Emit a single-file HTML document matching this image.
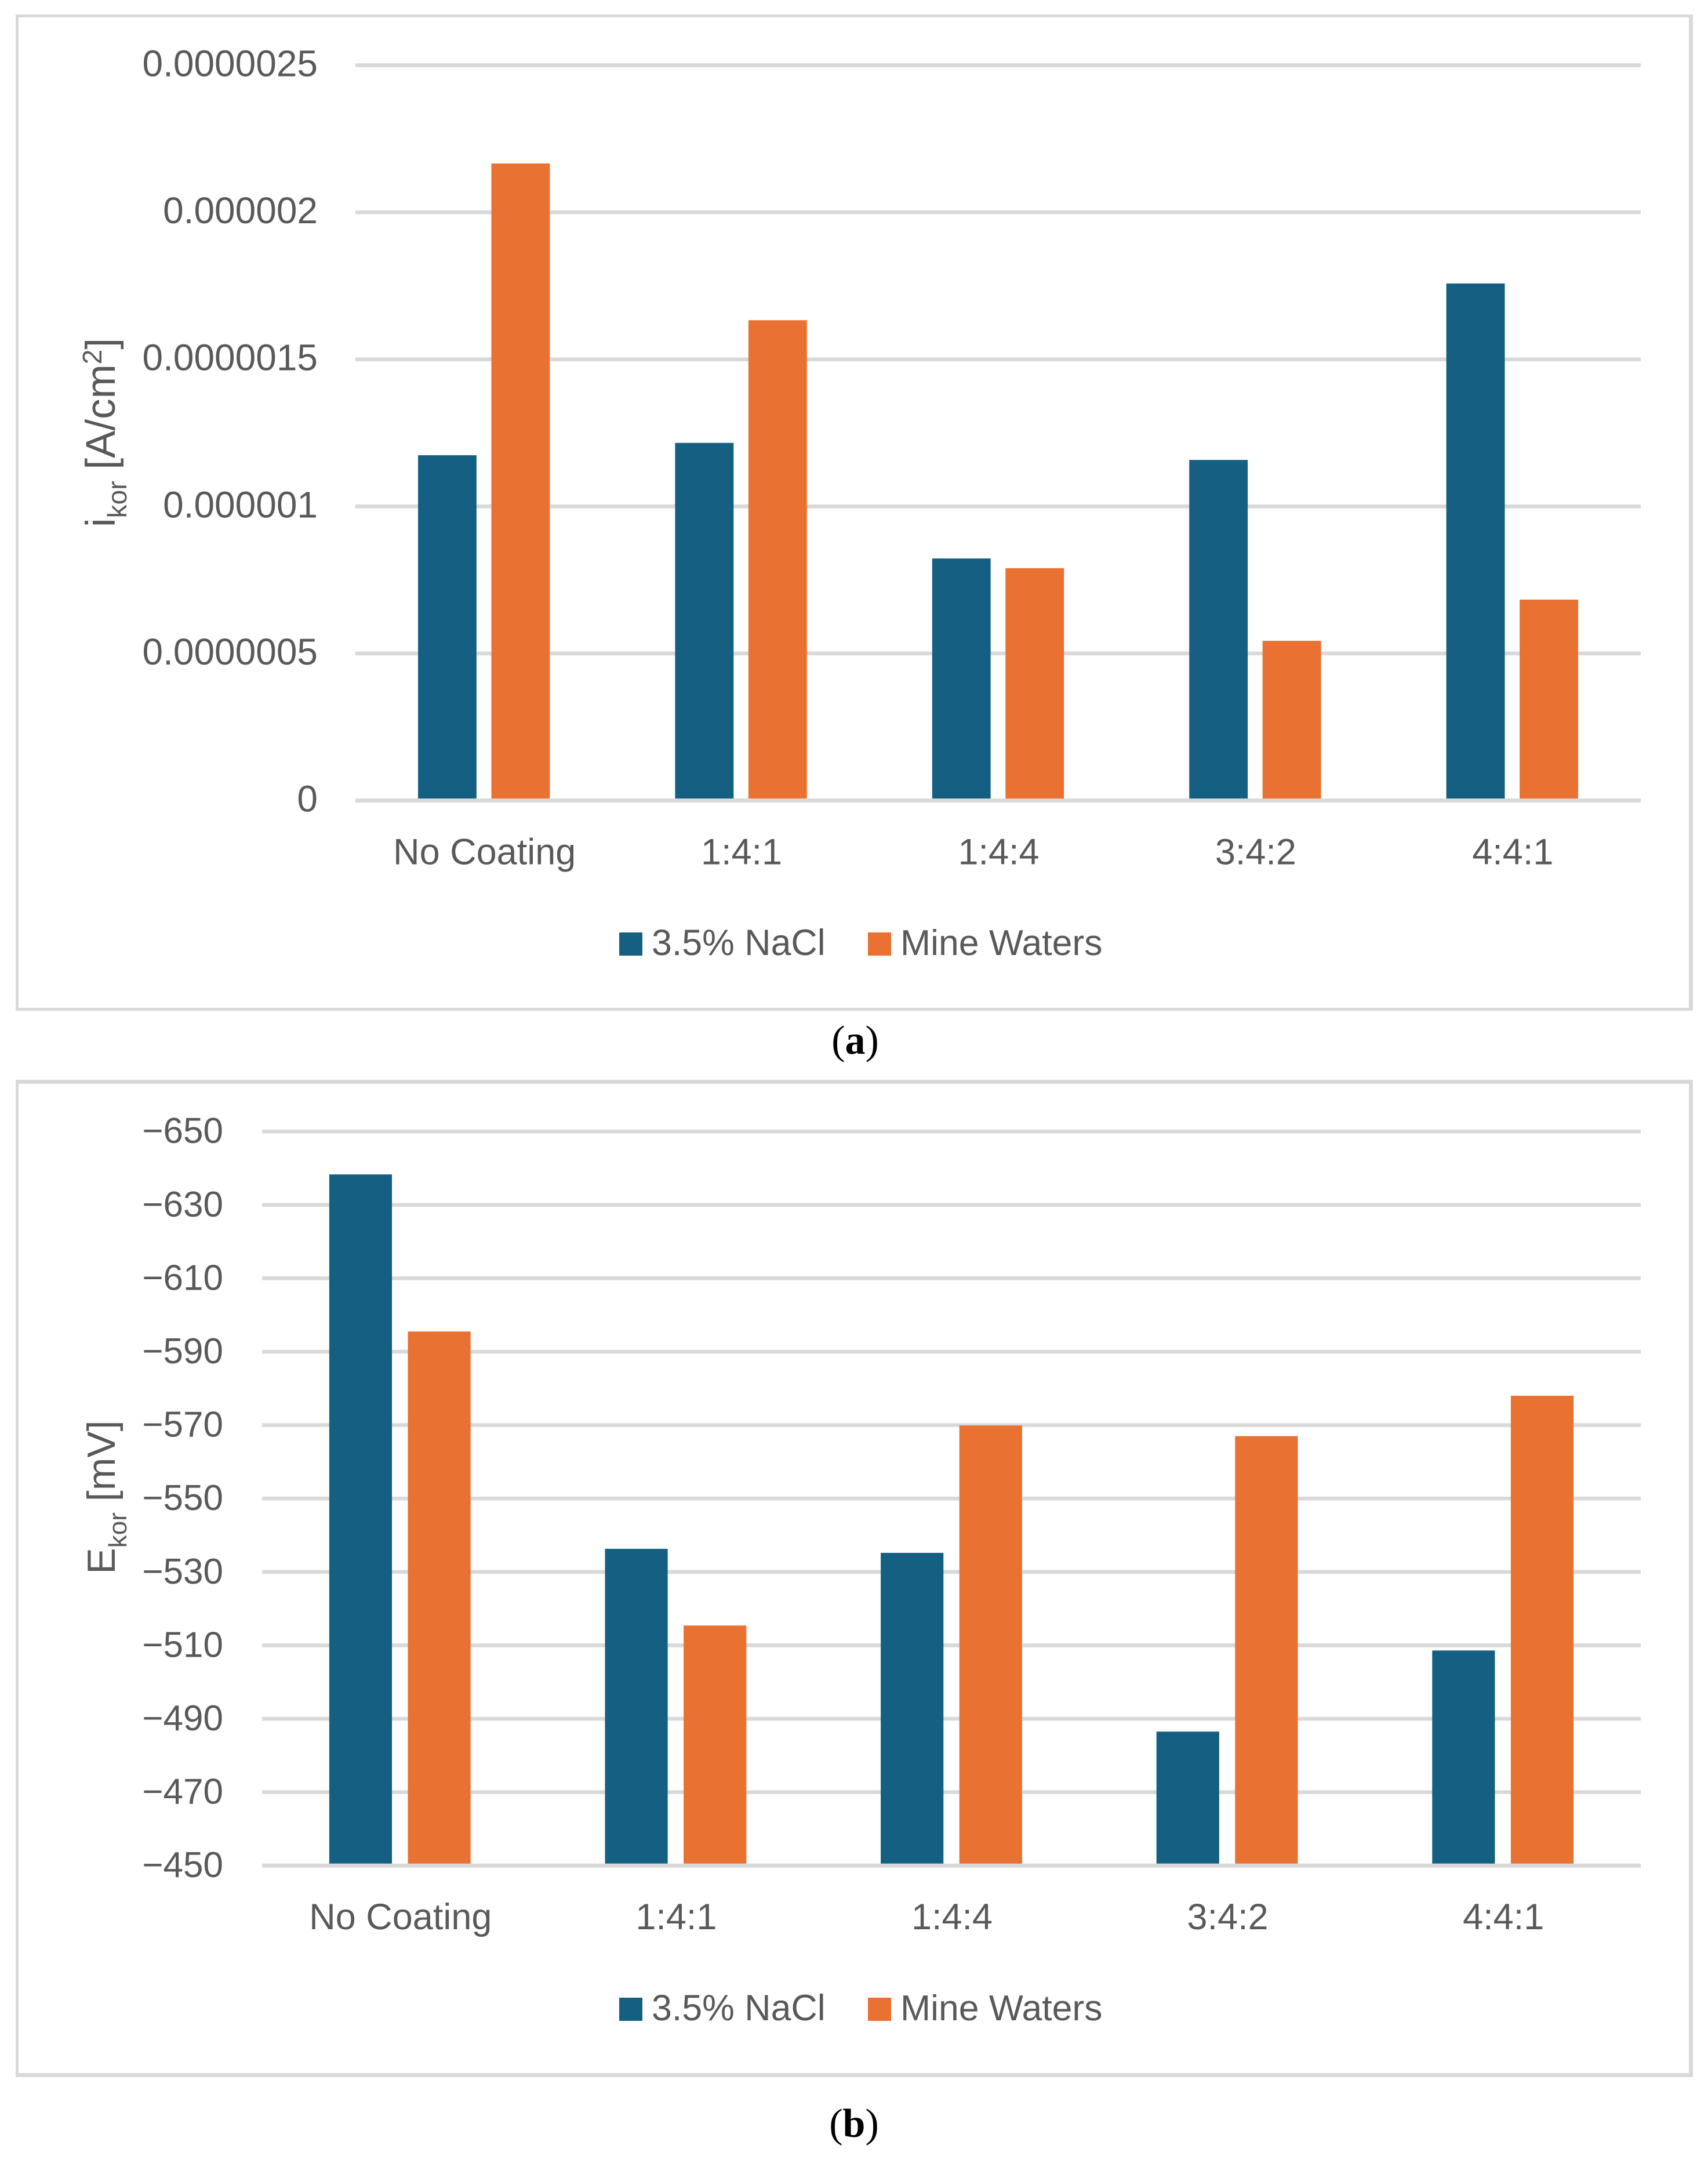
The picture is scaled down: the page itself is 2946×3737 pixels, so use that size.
<!DOCTYPE html>
<html lang="en">
<head>
<meta charset="utf-8">
<title>Corrosion current density and corrosion potential charts</title>
<style>
html,body{margin:0;padding:0;background:#fff;}
body{width:2946px;height:3737px;overflow:hidden;}
svg{display:block;}
text{font-family:"Liberation Sans",sans-serif;fill:#595959;}
.cap{font-family:"Liberation Serif",serif;fill:#000;font-size:70px;}
</style>
</head>
<body>
<svg id="figure" xmlns="http://www.w3.org/2000/svg" width="2946" height="3737" viewBox="0 0 2946 3737">
  <rect x="0" y="0" width="2946" height="3737" fill="#ffffff"/>
  <g id="chartA"></g>
  <text class="cap" x="1475" y="1817" text-anchor="middle">(<tspan font-weight="bold">a</tspan>)</text>
  <g id="chartB"></g>
  <text class="cap" x="1473" y="3685" text-anchor="middle">(<tspan font-weight="bold">b</tspan>)</text>
</svg>
<script>
var categoriesA = ['No Coating', '1:4:1', '1:4:4', '3:4:2', '4:4:1'];
var naclA = [0.000001174, 0.000001216, 0.000000823, 0.000001158, 0.000001758];
var mineA = [0.000002166, 0.000001633, 0.000000790, 0.000000543, 0.000000683];
var tickValuesA = [0, 0.0000005, 0.000001, 0.0000015, 0.000002, 0.0000025];
var tickLabelsA = ['0', '0.0000005', '0.000001', '0.0000015', '0.000002', '0.0000025'];

var categoriesB = ['No Coating', '1:4:1', '1:4:4', '3:4:2', '4:4:1'];
var naclB = [-638.3, -536.3, -535.2, -486.5, -508.6];
var mineB = [-595.5, -515.4, -569.9, -567.0, -578.0];
var tickValuesB = [-450, -470, -490, -510, -530, -550, -570, -590, -610, -630, -650];
var tickLabelsB = ['\u2212450', '\u2212470', '\u2212490', '\u2212510', '\u2212530', '\u2212550', '\u2212570', '\u2212590', '\u2212610', '\u2212630', '\u2212650'];

var NS = 'http://www.w3.org/2000/svg';
var BLUE = '#156082';
var ORANGE = '#E97132';
var GRID = '#D9D9D9';

function mk(parent, tag, attrs) {
  var el = document.createElementNS(NS, tag);
  for (var k in attrs) { el.setAttribute(k, attrs[k]); }
  parent.appendChild(el);
  return el;
}

function drawChart(root, cfg, categories, nacl, mine, tickValues, tickLabels) {
  var axisMin = tickValues[0];
  var axisMax = tickValues[tickValues.length - 1];
  function yScale(v) {
    return cfg.plotBottom + (v - axisMin) / (axisMax - axisMin) * (cfg.plotTop - cfg.plotBottom);
  }
  var catWidth = (cfg.plotRight - cfg.plotLeft) / categories.length;
  var barWidth = catWidth * 0.2275;
  var barGap = catWidth * 0.0577;
  function catCenter(i) {
    return cfg.plotLeft + catWidth * (i + 0.5);
  }

  var frame = mk(root, 'path', {
    d: 'M27 ' + cfg.frameTop + 'H2920V' + cfg.frameBottom + 'H27Z' +
       'M32 ' + cfg.frameInnerTop + 'V' + cfg.frameInnerBottom + 'H2913V' + cfg.frameInnerTop + 'Z',
    fill: GRID, 'fill-rule': 'evenodd'
  });
  
  

  tickValues.forEach(function (v, i) {
    var y = yScale(v);
    if (i > 0) {
      var line = mk(root, 'rect', { x: cfg.plotLeft, y: y - 3.25, width: cfg.plotRight - cfg.plotLeft, height: 6.5, fill: GRID });
      
      
    }
    var lab = mk(root, 'text', { x: cfg.tickX, y: y + cfg.tickDy, 'text-anchor': 'end', 'font-size': cfg.tickFont });
    
    
    lab.textContent = tickLabels[i];
  });

  categories.forEach(function (c, i) {
    var cx = catCenter(i);
    var top1 = yScale(nacl[i]);
    var top2 = yScale(mine[i]);
    var b1 = mk(root, 'rect', { x: cx - barGap / 2 - barWidth, y: top1, width: barWidth, height: yScale(axisMin) - top1, fill: BLUE });
    
    
    var b2 = mk(root, 'rect', { x: cx + barGap / 2, y: top2, width: barWidth, height: yScale(axisMin) - top2, fill: ORANGE });
    
    
    var lab = mk(root, 'text', { x: cx + 1, y: cfg.plotBottom + 110, 'text-anchor': 'middle', 'font-size': 63 });
    
    
    lab.textContent = c;
  });

  var axis = mk(root, 'rect', { x: cfg.plotLeft, y: yScale(axisMin) - 3.5, width: cfg.plotRight - cfg.plotLeft, height: 7, fill: GRID });
  
  

  var title = mk(root, 'text', {
    transform: 'translate(198 ' + cfg.titleY + ') rotate(-90)',
    'text-anchor': 'middle', 'font-size': cfg.titleFont
  });
  
  
  cfg.titleParts.forEach(function (p) {
    var t = mk(title, 'tspan', { dy: p[1] });
    if (p[2]) { t.setAttribute('font-size', p[2]); }
    t.textContent = p[0];
  });

  var s1 = mk(root, 'rect', { x: 1068, y: cfg.legendY, width: 40, height: 40, fill: BLUE });
  
  
  var t1 = mk(root, 'text', { x: 1124, y: cfg.legendY + 39, 'font-size': 62.7 });
  
  
  t1.textContent = '3.5% NaCl';
  var s2 = mk(root, 'rect', { x: 1497, y: cfg.legendY, width: 40, height: 40, fill: ORANGE });
  
  
  var t2 = mk(root, 'text', { x: 1553, y: cfg.legendY + 39, 'font-size': 62.5 });
  
  
  t2.textContent = 'Mine Waters';
}

drawChart(document.getElementById('chartA'), {
  frameTop: 25, frameBottom: 1743, frameInnerTop: 30, frameInnerBottom: 1738,
  plotLeft: 613, plotRight: 2830, plotTop: 112.5, plotBottom: 1380.5,
  tickX: 548, tickDy: 19, tickFont: 64,
  titleY: 746, titleFont: 71,
  titleParts: [['i', 0], ['kor', 20, 46], [' [A/cm', -20], ['2', -23, 46], [']', 23]],
  legendY: 1608
}, categoriesA, naclA, mineA, tickValuesA, tickLabelsA);

drawChart(document.getElementById('chartB'), {
  frameTop: 1862, frameBottom: 3582, frameInnerTop: 1869, frameInnerBottom: 3575,
  plotLeft: 452, plotRight: 2830, plotTop: 1951.2, plotBottom: 3217.2,
  tickX: 385, tickDy: 20, tickFont: 62,
  titleY: 2582, titleFont: 68,
  titleParts: [['E', 0], ['kor', 20, 44], [' [mV]', -20]],
  legendY: 3445
}, categoriesB, naclB, mineB, tickValuesB, tickLabelsB);
</script>
</body>
</html>
